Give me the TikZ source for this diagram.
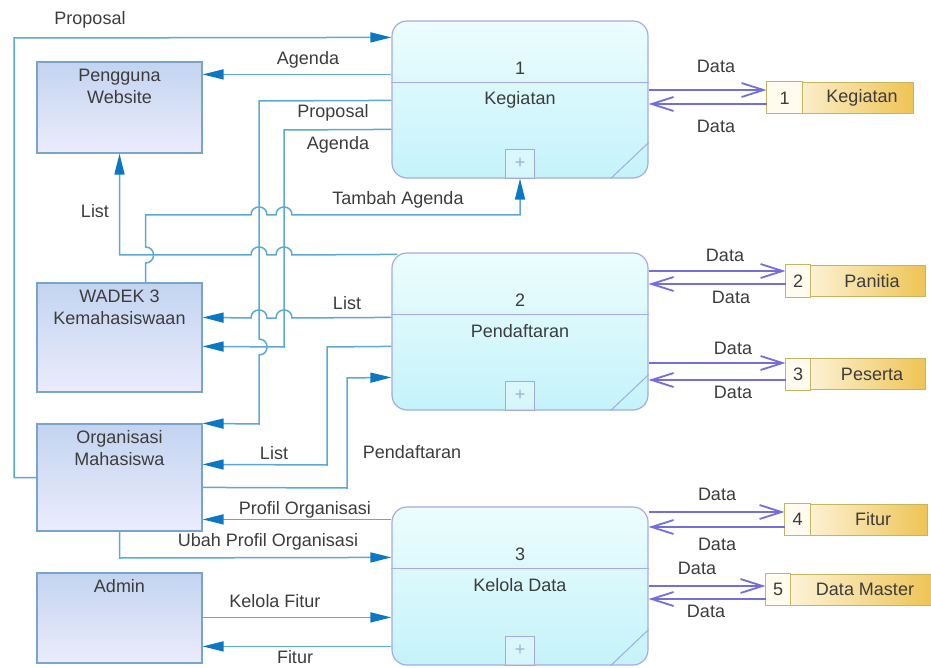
\documentclass[tikz,border=0pt]{standalone}
\usepackage{fontspec}
\setmainfont{Liberation Sans}
\usepackage{tikz}
\usetikzlibrary{positioning, calc, arrows.meta}
\definecolor{textgray}{RGB}{60,60,60}
\definecolor{entline}{RGB}{120,165,205}
\definecolor{entA}{RGB}{195,212,240}
\definecolor{entB}{RGB}{235,236,252}
\definecolor{procline}{RGB}{165,170,230}
\definecolor{procA}{RGB}{236,253,254}
\definecolor{procB}{RGB}{196,243,250}
\definecolor{flowline}{RGB}{90,170,210}
\definecolor{flowtip}{RGB}{10,120,195}
\definecolor{dataline}{RGB}{115,110,220}
\definecolor{storeline}{RGB}{200,180,95}
\definecolor{storeA}{RGB}{255,251,238}
\definecolor{storeB}{RGB}{238,196,85}
\definecolor{plusgray}{RGB}{160,175,205}

\begin{document}
\begin{tikzpicture}[x=1pt, y=-1pt, font=\fontsize{18}{22}\selectfont, text=textgray]
	\tikzstyle{entity}=[rectangle, draw=entline, line width=1.2pt, top color=entA, bottom color=entB, minimum width=165, inner sep=0]
	\tikzstyle{process}=[rectangle, rounded corners=15pt, draw=procline, line width=1.2pt, top color=procA, bottom color=procB, minimum width=256, inner sep=0]
	\tikzstyle{store}=[rectangle, draw=storeline, line width=1pt, left color=storeA, right color=storeB, minimum height=31, inner sep=0]
	\tikzstyle{plusbox}=[rectangle, draw=procline, line width=1pt, fill=white, fill opacity=0.3, text opacity=1, text=plusgray, minimum size=29, inner sep=0]
	\tikzstyle{flow}=[draw=flowline, line width=1.5pt, -{Triangle[length=21pt, width=10pt, color=flowtip]}]
	\tikzstyle{dflow}=[draw=dataline, line width=1.8pt, -{Straight Barb[length=22pt, width=14pt]}]

	\useasboundingbox (0,0) rectangle (931,668);

	\node[entity, minimum height=91] (user) at (119.5,107.5) {};
	\node[entity, minimum height=109] (wadek) at (119.5,337.5) {};
	\node[entity, minimum height=107] (orga) at (119.5,477.5) {};
	\node[entity, minimum height=90] (admin) at (119.5,618) {};
	\node[anchor=north, align=center] (user-txt) at ([yshift=-4pt]user.north) {Pengguna\\Website};
	\node[anchor=north, align=center] (wadek-txt) at ([yshift=-4pt]wadek.north) {WADEK 3\\Kemahasiswaan};
	\node[anchor=north, align=center] (orga-txt) at ([yshift=-4pt]orga.north) {Organisasi\\Mahasiswa};
	\node[anchor=north, align=center] (admin-txt) at ([yshift=-4pt]admin.north) {Admin};

	\node[process, minimum height=157] (p1) at (520,99.5) {};
	\node[process, minimum height=157] (p2) at (520,331.5) {};
	\node[process, minimum height=158] (p3) at (520,586) {};
	\foreach \p/\n/\t in {p1/1/Kegiatan, p2/2/Pendaftaran, p3/3/Kelola Data}{
		\draw[procline, line width=1pt] ([yshift=-62pt]\p.north west) -- ([yshift=-62pt]\p.north east);
		\node (\p-num) at ([yshift=-48pt]\p.north) {\n};
		\node (\p-txt) at ([yshift=-79pt]\p.north) {\t};
		\node[plusbox, above=0pt of \p.south] (\p-plus) {+};
		\draw[procline, line width=1pt] ([xshift=-38pt]\p.south east) -- ([yshift=36pt]\p.south east);
	}

	\foreach \n/\x/\y/\w/\c/\t in {1/840/98/146/36/Kegiatan, 2/855.5/281/139/25/Panitia, 3/855.5/374/139/25/Peserta, 4/856/519.5/142/26/Fitur, 5/848.5/589.5/165/25/Data Master}{
		\node[store, minimum width=\w] (s\n) at (\x,\y) {};
		\path[fill=storeA, draw=storeline, line width=1pt] (s\n.north west) rectangle ([xshift=\c pt]s\n.south west);
		\node (s\n-num) at ($(s\n.west)+(\c/2,0)$) {\n};
		\node[xshift=4pt] (s\n-txt) at ($(s\n.east)!0.5!([xshift=\c pt]s\n.west)$) {\t};
	}

	\foreach \n/\p/\a/\b in {1/p1/-8/6, 2/p2/-10/3, 3/p2/-11/6, 4/p3/-7.5/7.5, 5/p3/-3.5/9.5}{
		\path ($(s\n.west)+(0,\a)$) coordinate (s\n-in) ($(s\n.west)+(0,\b)$) coordinate (s\n-out);
		\draw[dflow] (\p.east |- s\n-in) -- (s\n-in);
		\draw[dflow] (s\n-out) -- (\p.east |- s\n-out);
	}
	\foreach \x/\y [count=\i] in {716/66, 716/126, 725/255, 731/297, 733/348, 733/392, 717/494, 717/544, 697/568, 706/611}{
		\node (data\i) at (\x,\y) {Data};
	}

	\draw[flow] (orga.west) -| (14,38) -- ([yshift=-17pt]p1.north west);
	\draw[flow] ([yshift=-54pt]p1.north west) -- ([yshift=-13pt]user.north east);
	\draw[flow] ([yshift=-80pt]p1.north west) -- (259,101) -- (259,339) .. controls (269.7,339) and (269.7,355) .. (259,355) -- (259,424) -- (orga.north east);
	\draw[flow] ([yshift=-109pt]p1.north west) -- (284,130) -- (284,347) -- ([yshift=-64pt]wadek.north east);
	\draw[flow] ([xshift=26pt]wadek.north) -- (145.5,263) .. controls (156.2,263) and (156.2,247) .. (145.5,247) -- (145.5,215) -- (251,215) .. controls (251,204.3) and (267,204.3) .. (267,215) -- (276,215) .. controls (276,204.3) and (292,204.3) .. (292,215) -- (p1.south |- 0,215) -- (p1.south);
	\draw[flow] ([xshift=6pt, yshift=-2pt]p2.north west) -- (292,255) .. controls (292,244.3) and (276,244.3) .. (276,255) -- (267,255) .. controls (267,244.3) and (251,244.3) .. (251,255) -- (user.south |- 0,255) -- (user.south);
	\draw[flow] ([yshift=-65pt]p2.north west) -- (292,318) .. controls (292,307.3) and (276,307.3) .. (276,318) -- (267,318) .. controls (267,307.3) and (251,307.3) .. (251,318) -- ([yshift=-35pt]wadek.north east);
	\draw[flow] ([yshift=-94pt]p2.north west) -- (327,347) -- (327,465) -- ([yshift=-41pt]orga.north east);
	\draw[flow] ([yshift=-64pt]orga.north east) -- (347,488) -- (347,378) -- ([yshift=-125pt]p2.north west);
	\draw[flow] ([yshift=-13pt]p3.north west) -- ([yshift=-96pt]orga.north east);
	\draw[flow] (orga.south) -- (119.5,558) -- ([yshift=-51pt]p3.north west);
	\draw[flow] ([yshift=-45pt]admin.north east) -- ([yshift=-111pt]p3.north west);
	\draw[flow] ([yshift=-140pt]p3.north west) -- ([yshift=-74pt]admin.north east);

	\node (proposal1) at (90,20) {Proposal};
	\node (agenda1) at (308,60) {Agenda};
	\node (proposal2) at (333,113) {Proposal};
	\node (agenda2) at (338,145) {Agenda};
	\node (list1) at (95,211) {List};
	\node (tambah) at (398,200) {Tambah Agenda};
	\node (list2) at (347,303) {List};
	\node (list3) at (274,453) {List};
	\node (daftar) at (412,452) {Pendaftaran};
	\node (profil) at (305,510) {Profil Organisasi};
	\node (ubah) at (268,542) {Ubah Profil Organisasi};
	\node (kelola) at (275,601) {Kelola Fitur};
	\node (fitur) at (295,657) {Fitur};
\end{tikzpicture}
\end{document}
